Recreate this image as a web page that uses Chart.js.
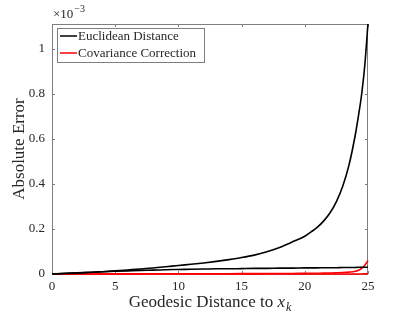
<!DOCTYPE html>
<html>
<head>
<meta charset="utf-8">
<script src="https://cdn.jsdelivr.net/npm/chart.js@4.4.1/dist/chart.umd.min.js"></script>
<style>
html,body{margin:0;padding:0;background:#fff;}
#wrap{width:407px;height:315px;position:relative;}
</style>
</head>
<body>
<div id="wrap"><canvas id="c" width="407" height="315"></canvas></div>
<script>
// Geodesic distance samples (x axis)
const X_VALUES = [0,1,2,3,4,5,6,7,8,9,10,11,12,13,14,15,16,17,18,19,20,20.5,21,21.5,22,22.5,23,23.5,24,24.25,24.5,24.75,25];
// Absolute error, in units of 1e-3
const EUCLID_A = [0,0.002,0.004,0.007,0.010,0.014,0.018,0.022,0.027,0.032,0.038,0.043,0.049,0.056,0.064,0.073,0.084,0.099,0.118,0.142,0.168,0.187,0.208,0.236,0.272,0.322,0.390,0.485,0.620,0.705,0.800,0.930,1.115];
const EUCLID_B = [0,0.003,0.005,0.008,0.010,0.012,0.014,0.016,0.017,0.019,0.020,0.021,0.022,0.023,0.023,0.024,0.025,0.025,0.026,0.026,0.027,0.027,0.027,0.028,0.028,0.028,0.029,0.029,0.029,0.030,0.030,0.030,0.030];
const COV_A = [0,0.0001,0.0002,0.0003,0.0004,0.0005,0.0006,0.0007,0.0008,0.0009,0.001,0.0011,0.0012,0.0013,0.0014,0.0015,0.0017,0.0019,0.0021,0.0024,0.0028,0.003,0.0034,0.0038,0.0044,0.0052,0.0063,0.0082,0.012,0.017,0.025,0.039,0.060];
const COV_B = [0,0,0,0,0,0,0,0,0,0,0,0,0,0,0,0,0,0,0,0,0,0,0,0,0,0,0,0,0.0001,0.0002,0.0003,0.0006,0.001];
const X_TICKS = [0,5,10,15,20,25];
const Y_TICKS = [0,0.2,0.4,0.6,0.8,1];
const Y_EXPONENT = "-3";
const LEGEND_LABELS = ["Euclidean Distance","Covariance Correction"];
const X_TITLE = "Geodesic Distance to ";
const Y_TITLE = "Absolute Error";

const FONT = "'Liberation Serif', 'DejaVu Serif', serif";
const AXIS_COLOR = "#7f7f7f";
const TEXT_COLOR = "#262626";

function pts(ys){ return X_VALUES.map((x,i)=>({x:x,y:ys[i]})); }

const deco = {
  id:'deco',
  beforeDatasetsDraw(chart){
    const ctx = chart.ctx, a = chart.chartArea;
    const xs = chart.scales.x, ys = chart.scales.y;
    ctx.save();
    ctx.strokeStyle = AXIS_COLOR; ctx.lineWidth = 1;
    ctx.strokeRect(a.left+0.5, a.top+0.5, a.right-a.left-1, a.bottom-a.top);
    const tl = 3;
    ctx.beginPath();
    X_TICKS.forEach(v=>{
      const px = Math.round(xs.getPixelForValue(v))+0.5;
      ctx.moveTo(px,a.bottom); ctx.lineTo(px,a.bottom-tl);
      ctx.moveTo(px,a.top); ctx.lineTo(px,a.top+tl);
    });
    Y_TICKS.forEach(v=>{
      const py = Math.round(ys.getPixelForValue(v))+0.5;
      ctx.moveTo(a.left,py); ctx.lineTo(a.left+tl,py);
      ctx.moveTo(a.right,py); ctx.lineTo(a.right-tl,py);
    });
    ctx.stroke();
    ctx.restore();
  },
  afterDraw(chart){
    const ctx = chart.ctx, a = chart.chartArea;
    ctx.save();
    ctx.fillStyle = TEXT_COLOR;
    // exponent label
    ctx.textBaseline = 'alphabetic'; ctx.textAlign = 'left';
    ctx.font = "13px " + FONT;
    ctx.fillText("\u00d710", a.left + 1, 18);
    const w10 = ctx.measureText("\u00d710").width;
    ctx.font = "10px " + FONT;
    ctx.fillText("\u2212" + Y_EXPONENT.replace("-",""), a.left + w10 + 2, 12);
    // x title
    ctx.font = "17px " + FONT;
    const wMain = ctx.measureText(X_TITLE).width;
    ctx.font = "italic 17px " + FONT;
    const wx = ctx.measureText("x").width;
    ctx.font = "italic 12px " + FONT;
    const wk = ctx.measureText("k").width;
    const total = wMain + wx + wk + 1;
    let sx = (a.left + a.right)/2 - total/2;
    const by = 307;
    ctx.font = "17px " + FONT; ctx.fillText(X_TITLE, sx, by); sx += wMain;
    ctx.font = "italic 17px " + FONT; ctx.fillText("x", sx, by); sx += wx + 1;
    ctx.font = "italic 12px " + FONT; ctx.fillText("k", sx, by + 4);
    // y title
    ctx.save();
    ctx.translate(24, (a.top + a.bottom)/2);
    ctx.rotate(-Math.PI/2);
    ctx.font = "17px " + FONT; ctx.textAlign = 'center';
    ctx.fillText(Y_TITLE, 0, 0);
    ctx.restore();
    // legend
    const lx = a.left + 5, ly = a.top + 4, lw = 147, lh = 34;
    ctx.fillStyle = '#fff';
    ctx.fillRect(lx, ly, lw, lh);
    ctx.strokeStyle = AXIS_COLOR; ctx.lineWidth = 1;
    ctx.strokeRect(lx+0.5, ly+0.5, lw, lh);
    const cols = [chart.data.datasets[0].borderColor, chart.data.datasets[2].borderColor];
    ctx.font = "13px " + FONT; ctx.textBaseline = 'middle'; ctx.textAlign='left';
    LEGEND_LABELS.forEach((t,i)=>{
      const yy = ly + 8 + i*17;
      ctx.strokeStyle = cols[i]; ctx.lineWidth = 1.5;
      ctx.beginPath(); ctx.moveTo(lx+3, yy); ctx.lineTo(lx+20, yy); ctx.stroke();
      ctx.fillStyle = TEXT_COLOR;
      ctx.fillText(t, lx + 21, yy + 1);
    });
    ctx.restore();
  }
};

const common = {pointRadius:0, borderWidth:1.6, fill:false, cubicInterpolationMode:'monotone', clip:{left:2,right:2,top:0,bottom:2}};
new Chart(document.getElementById('c'), {
  type:'line',
  data:{datasets:[
    Object.assign({label:LEGEND_LABELS[0], data:pts(EUCLID_A), borderColor:'#000000'}, common),
    Object.assign({label:LEGEND_LABELS[0], data:pts(EUCLID_B), borderColor:'#000000'}, common),
    Object.assign({label:LEGEND_LABELS[1], data:pts(COV_B), borderColor:'#ff0000'}, common),
    Object.assign({label:LEGEND_LABELS[1], data:pts(COV_A), borderColor:'#ff0000'}, common)
  ]},
  options:{
    responsive:false, animation:false, devicePixelRatio:1,
    layout:{padding:{left:0,top:24,right:39,bottom:0}},
    plugins:{legend:{display:false}, tooltip:{enabled:false}},
    scales:{
      x:{type:'linear', min:0, max:25,
        grid:{display:false, drawTicks:false}, border:{display:false},
        afterBuildTicks(s){ s.ticks = X_TICKS.map(v=>({value:v})); },
        afterFit(s){ s.height = 41; },
        ticks:{padding:5, color:TEXT_COLOR, font:{family:FONT, size:13}, maxRotation:0, autoSkip:false}
      },
      y:{type:'linear', min:0, max:1.111,
        grid:{display:false, drawTicks:false}, border:{display:false},
        afterBuildTicks(s){ s.ticks = Y_TICKS.map(v=>({value:v})); },
        afterFit(s){ s.width = 52; },
        ticks:{padding:7, color:TEXT_COLOR, font:{family:FONT, size:13}, callback:(v)=>String(v)}
      }
    }
  },
  plugins:[deco]
});
</script>
</body>
</html>
